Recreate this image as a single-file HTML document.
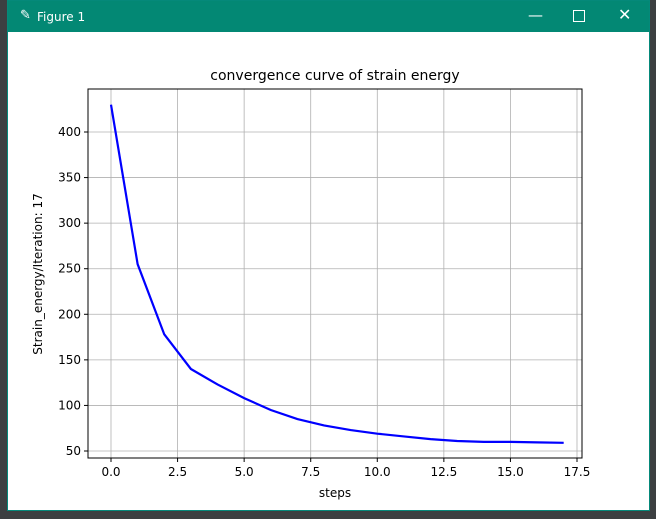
<!DOCTYPE html>
<html><head><meta charset="utf-8"><style>
body{margin:0;width:656px;height:519px;background:#3c3f41;position:relative;overflow:hidden;font-family:"DejaVu Sans","Liberation Sans",sans-serif}
#win{position:absolute;left:7px;top:0;width:643px;height:511px;background:#fff;border:1px solid #05897a;box-sizing:border-box}
#bar{position:absolute;left:0;top:0;width:100%;height:31px;background:#038874;color:#fff;font-size:12px}
</style></head><body>
<div id="win">
<div id="bar">
<span style="position:absolute;left:12px;top:7px;font-size:13px">✎</span>
<span style="position:absolute;left:29px;top:9px">Figure 1</span>
<span style="position:absolute;left:520px;top:5px;font-size:15px">—</span>
<span style="position:absolute;left:565px;top:9px;width:10px;height:10px;border:1px solid #fff"></span>
<span style="position:absolute;left:610px;top:4px;font-size:16px">✕</span>
</div></div>
<svg id="chart" width="656" height="519" style="position:absolute;left:0;top:0"></svg>
<script>
const steps=[0,1,2,3,4,5,6,7,8,9,10,11,12,13,14,15,16,17];
const energy=[430,255,178,140,123,108,95,85,78,73,69,66,63,61,60,60,59.5,59];
const xTicks=[0,2.5,5,7.5,10,12.5,15,17.5];
const yTicks=[50,100,150,200,250,300,350,400];
const L=88,R=582,T=89,B=458;
const sx=v=>111+v*(466/17.5);
const sy=v=>451-(v-50)*(319/350);
const svg=document.getElementById('chart');
const NS='http://www.w3.org/2000/svg';
function mk(t,a){const e=document.createElementNS(NS,t);for(const k in a)e.setAttribute(k,a[k]);svg.appendChild(e);return e;}
xTicks.forEach(v=>{const x=sx(v);
const g=mk('line',{x1:x,x2:x,y1:T,y2:B,stroke:'#b0b0b0','stroke-width':0.8});


mk('line',{x1:x,x2:x,y1:B,y2:B+4,stroke:'#000'});
const t=mk('text',{x:x,y:B+18,'text-anchor':'middle','font-size':12});t.textContent=v.toFixed(1);

});
yTicks.forEach(v=>{const y=sy(v);
const g=mk('line',{x1:L,x2:R,y1:y,y2:y,stroke:'#b0b0b0','stroke-width':0.8});


mk('line',{x1:L-4,x2:L,y1:y,y2:y,stroke:'#000'});
const t=mk('text',{x:L-7,y:y+4,'text-anchor':'end','font-size':12});t.textContent=v;

});
const fr=mk('rect',{x:L,y:T,width:R-L,height:B-T,fill:'none',stroke:'#000','stroke-width':1});


const ln=mk('polyline',{points:steps.map((s,i)=>sx(s)+','+sy(energy[i])).join(' '),fill:'none',stroke:'#0000ff','stroke-width':2.2});


const ti=mk('text',{x:335,y:80,'text-anchor':'middle','font-size':14});ti.textContent='convergence curve of strain energy';


const xl=mk('text',{x:335,y:497,'text-anchor':'middle','font-size':12});xl.textContent='steps';


const yl=mk('text',{x:0,y:0,'text-anchor':'middle','font-size':12,transform:'translate(42,274) rotate(-90)'});yl.textContent='Strain_energy/Iteration: 17';


</script>
</body></html>
